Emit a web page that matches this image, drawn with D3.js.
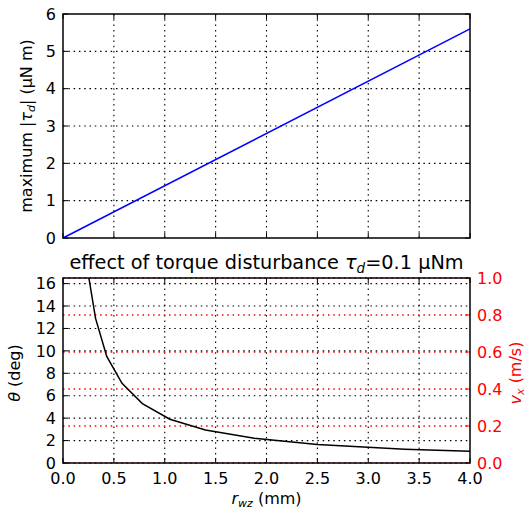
<!DOCTYPE html>
<html>
<head>
<meta charset="utf-8">
<script src="https://cdn.jsdelivr.net/npm/d3@7"></script>
<style>
  body { margin: 0; background: #fff; }
  svg text { font-family: "DejaVu Sans", sans-serif; }
</style>
</head>
<body>
<svg id="canvas" width="526" height="510"></svg>
<script>
// top panel: max disturbance torque vs r_wz
let topR = [0, 4.0]
let topTau = [0, 5.6]

// bottom panel: tilt angle vs r_wz
let rwz = [0.24, 0.32, 0.43, 0.58, 0.78, 1.05, 1.4, 1.88, 2.5, 3.36, 4.0]
let theta = [17.3, 12.9, 9.5, 7.1, 5.3, 3.9, 2.95, 2.2, 1.65, 1.23, 1.04]

let xTicks = [0, 0.5, 1, 1.5, 2, 2.5, 3, 3.5, 4]
let topYTicks = [0, 1, 2, 3, 4, 5, 6]
let botYTicks = [0, 2, 4, 6, 8, 10, 12, 14, 16]
let rightTicks = [0, 0.2, 0.4, 0.6, 0.8, 1.0]

let svg = d3.select('#canvas')
let left = 63, right = 470
let tickLen = 5
let fs = 16

let x = d3.scaleLinear().domain([0, 4]).range([left, right])
let yTop = d3.scaleLinear().domain([0, 6]).range([238, 14])
let yBot = d3.scaleLinear().domain([0, 16.5]).range([463, 278])
let yRight = d3.scaleLinear().domain([0, 1]).range([463, 278])

let grid = (g, vals, fn, color, w) => {
  g.selectAll(null).data(vals).enter().append('line')
    .attr('x1', d => fn(d)[0]).attr('y1', d => fn(d)[1])
    .attr('x2', d => fn(d)[2]).attr('y2', d => fn(d)[3])
    .attr('stroke', color).attr('stroke-width', w || 1.1)
    .attr('stroke-dasharray', '1.5,3.8')
}

let ticks = (g, vals, fn, color) => {
  g.selectAll(null).data(vals).enter().append('line')
    .attr('x1', d => fn(d)[0]).attr('y1', d => fn(d)[1])
    .attr('x2', d => fn(d)[2]).attr('y2', d => fn(d)[3])
    .attr('stroke', color).attr('stroke-width', 1)
}

// ---------- top panel ----------
let gTop = svg.append('g')
let t0 = yTop.range()[1], t1 = yTop.range()[0]
grid(gTop, xTicks.slice(1, -1), d => [x(d), t0, x(d), t1], '#000')
grid(gTop, topYTicks.slice(1, -1), d => [left, yTop(d), right, yTop(d)], '#000')
ticks(gTop, xTicks, d => [x(d), t1, x(d), t1 - tickLen], '#000')
ticks(gTop, xTicks, d => [x(d), t0, x(d), t0 + tickLen], '#000')
ticks(gTop, topYTicks, d => [left, yTop(d), left + tickLen, yTop(d)], '#000')
ticks(gTop, topYTicks, d => [right, yTop(d), right - tickLen, yTop(d)], '#000')

gTop.append('path')
  .datum(d3.zip(topR, topTau))
  .attr('fill', 'none').attr('stroke', '#0000ff').attr('stroke-width', 1.5)
  .attr('d', d3.line().x(d => x(d[0])).y(d => yTop(d[1])))

gTop.append('rect').attr('x', left).attr('y', t0).attr('width', right - left).attr('height', t1 - t0)
  .attr('fill', 'none').attr('stroke', '#000').attr('stroke-width', 1.5)

gTop.selectAll('.yl').data(topYTicks).enter().append('text')
  .attr('x', left - 7).attr('y', d => yTop(d)).attr('dy', '0.36em')
  .attr('text-anchor', 'end').attr('font-size', fs).text(d => d)

let lab1 = gTop.append('text').attr('transform', 'translate(32,126) rotate(-90)')
  .attr('text-anchor', 'middle').attr('font-size', fs)
lab1.append('tspan').text('maximum |')
lab1.append('tspan').attr('font-style', 'italic').text('τ')
lab1.append('tspan').attr('font-style', 'italic').attr('font-size', 11).attr('dy', 3).text('d')
lab1.append('tspan').attr('dy', -3).text('| (μN m)')

// ---------- bottom panel ----------
let gBot = svg.append('g')
let b0 = yBot.range()[1], b1 = yBot.range()[0]

svg.append('clipPath').attr('id', 'clipBot').append('rect')
  .attr('x', left).attr('y', b0).attr('width', right - left).attr('height', b1 - b0)

grid(gBot, xTicks.slice(1, -1), d => [x(d), b0, x(d), b1], '#000')
grid(gBot, botYTicks.slice(1), d => [left, yBot(d), right, yBot(d)], '#000')
grid(gBot, rightTicks, d => [left, yRight(d), right, yRight(d)], '#ff0000', 1.4)

ticks(gBot, xTicks, d => [x(d), b1, x(d), b1 - tickLen], '#000')
ticks(gBot, xTicks, d => [x(d), b0, x(d), b0 + tickLen], '#000')
ticks(gBot, botYTicks, d => [left, yBot(d), left + tickLen, yBot(d)], '#000')
ticks(gBot, rightTicks, d => [right, yRight(d), right - tickLen, yRight(d)], '#ff0000')

gBot.append('path')
  .datum(d3.zip(rwz, theta))
  .attr('clip-path', 'url(#clipBot)')
  .attr('fill', 'none').attr('stroke', '#000').attr('stroke-width', 1.5)
  .attr('d', d3.line().x(d => x(d[0])).y(d => yBot(d[1])))

gBot.append('rect').attr('x', left).attr('y', b0).attr('width', right - left).attr('height', b1 - b0)
  .attr('fill', 'none').attr('stroke', '#000').attr('stroke-width', 1.5)

gBot.selectAll('.yl').data(botYTicks).enter().append('text')
  .attr('x', left - 7).attr('y', d => yBot(d)).attr('dy', '0.36em')
  .attr('text-anchor', 'end').attr('font-size', fs).text(d => d)

gBot.selectAll('.yr').data(rightTicks).enter().append('text')
  .attr('x', right + 7).attr('y', d => yRight(d)).attr('dy', '0.36em')
  .attr('fill', '#ff0000').attr('font-size', fs).text(d => d3.format('.1f')(d))

gBot.selectAll('.xl').data(xTicks).enter().append('text')
  .attr('x', d => x(d)).attr('y', b1 + 21)
  .attr('text-anchor', 'middle').attr('font-size', fs).text(d => d3.format('.1f')(d))

// title
let title = svg.append('text').attr('x', (left + right) / 2).attr('y', 269)
  .attr('text-anchor', 'middle').attr('font-size', 19.3)
title.append('tspan').text('effect of torque disturbance ')
title.append('tspan').attr('font-style', 'italic').text('τ')
title.append('tspan').attr('font-style', 'italic').attr('font-size', 13.5).attr('dy', 4).text('d')
title.append('tspan').attr('dy', -4).text('=0.1 μNm')

let lab2 = svg.append('text').attr('transform', 'translate(20,373) rotate(-90)')
  .attr('text-anchor', 'middle').attr('font-size', fs)
lab2.append('tspan').attr('font-style', 'italic').text('θ')
lab2.append('tspan').text(' (deg)')

let lab3 = svg.append('text').attr('transform', 'translate(521,373) rotate(-90)')
  .attr('text-anchor', 'middle').attr('font-size', fs).attr('fill', '#ff0000')
lab3.append('tspan').attr('font-style', 'italic').text('v')
lab3.append('tspan').attr('font-style', 'italic').attr('font-size', 11).attr('dy', 3).text('x')
lab3.append('tspan').attr('dy', -3).text(' (m/s)')

let lab4 = svg.append('text').attr('x', (left + right) / 2).attr('y', 504)
  .attr('text-anchor', 'middle').attr('font-size', fs)
lab4.append('tspan').attr('font-style', 'italic').text('r')
lab4.append('tspan').attr('font-style', 'italic').attr('font-size', 11).attr('dy', 3).text('wz')
lab4.append('tspan').attr('dy', -3).text(' (mm)')
</script>
</body>
</html>
